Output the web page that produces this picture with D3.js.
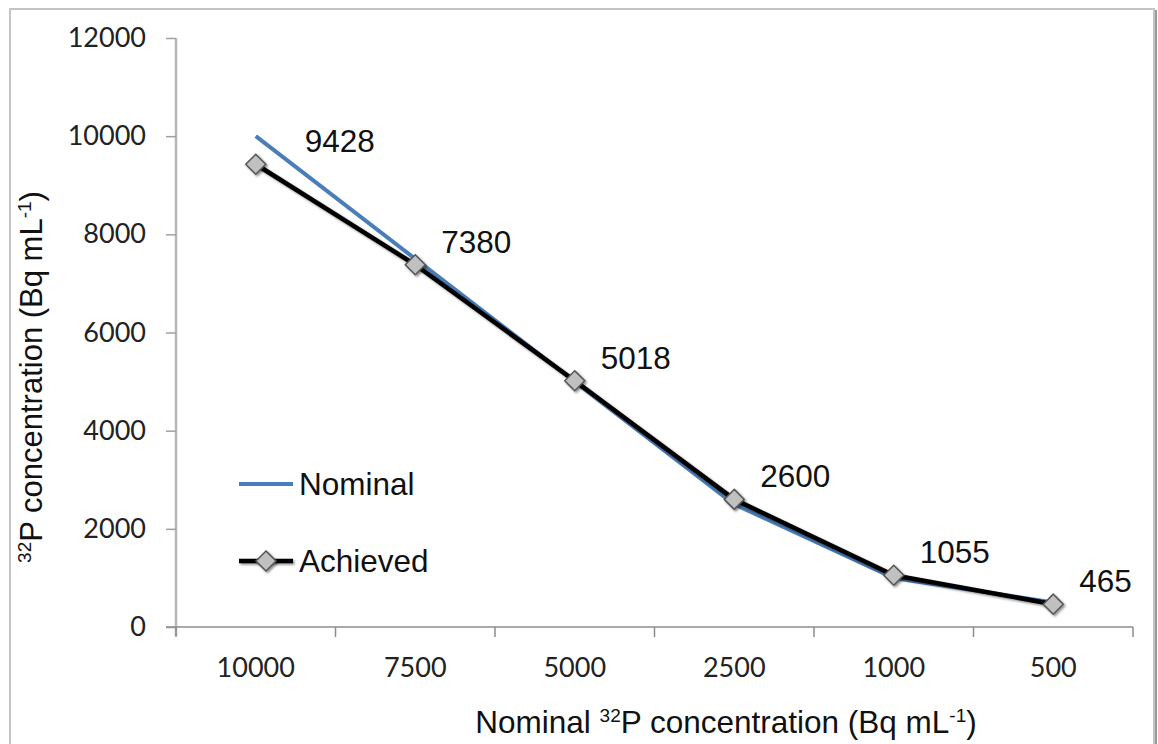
<!DOCTYPE html>
<html><head><meta charset="utf-8">
<script src="https://cdn.jsdelivr.net/npm/d3@7"></script>
<style>
html,body{margin:0;padding:0;background:#fff;}
svg{display:block;}
</style></head>
<body>
<svg id="chart" width="1158" height="744"></svg>
<script>
const categories = ["10000","7500","5000","2500","1000","500"];
const nominal = [10000, 7500, 5000, 2500, 1000, 500];
const achieved = [9428, 7380, 5018, 2600, 1055, 465];
const yTicks = [0, 2000, 4000, 6000, 8000, 10000, 12000];
const seriesNames = ["Nominal", "Achieved"];

(function(){
const svg = d3.select("#chart");
const pL = 176, pR = 1133, pT = 38, pB = 627;
const AR = "Liberation Sans, Arial, sans-serif";

// frame
svg.append("rect").attr("x", 10).attr("y", 9).attr("width", 1144).attr("height", 760)
  .attr("fill", "#fff").attr("stroke", "#c4c4c4").attr("stroke-width", 2);
svg.append("line").attr("x1", 1156).attr("x2", 1156).attr("y1", 10).attr("y2", 744)
  .attr("stroke", "#9a9a9a").attr("stroke-width", 2);

const defs = svg.append("defs");
const f = defs.append("filter").attr("id", "sh").attr("filterUnits", "userSpaceOnUse")
  .attr("x", 0).attr("y", 0).attr("width", 1158).attr("height", 744);
f.append("feDropShadow").attr("dx", 1.5).attr("dy", 1.5).attr("stdDeviation", 1.2).attr("flood-color", "#000").attr("flood-opacity", 0.45);

const x = d3.scaleBand().domain(categories).range([pL, pR]).padding(0);
const y = d3.scaleLinear().domain([0, 12000]).range([pB, pT]);
const cx = d => x(d) + x.bandwidth() / 2;

// y axis
const yAxis = d3.axisLeft(y).tickValues(yTicks).tickFormat(d3.format("d")).tickSize(10).tickPadding(20).tickSizeOuter(0);
const gy = svg.append("g").attr("transform", `translate(${pL},0)`).call(yAxis);
gy.select(".domain").attr("stroke", "#b8b8b8").attr("stroke-width", 2.5).attr("d", `M0,${pT}V${pB + 9}`);
gy.selectAll(".tick line").attr("stroke", "#a0a0a0").attr("stroke-width", 1.5);
gy.selectAll(".tick text").attr("font-family", "Lato").attr("font-size", 27).attr("fill", "#222");

// x axis
const xAxis = d3.axisBottom(x).tickSize(0).tickPadding(31).tickSizeOuter(0);
const gx = svg.append("g").attr("transform", `translate(0,${pB})`).call(xAxis);
gx.select(".domain").attr("stroke", "#8c8c8c").attr("stroke-width", 1.5).attr("d", `M${pL - 10},0H${pR}`);
gx.selectAll(".tick text").attr("font-family", "Lato").attr("font-size", 27).attr("fill", "#222");
const bounds = categories.map(c => x(c)).concat([pR]);
gx.selectAll(".bnd").data(bounds).enter().append("line")
  .attr("x1", d => d).attr("x2", d => d).attr("y1", 0).attr("y2", 10)
  .attr("stroke", "#8c8c8c").attr("stroke-width", 1.5);

// lines
const line = d3.line().x(d => cx(d.c)).y(d => y(d.v));
const nomData = categories.map((c, i) => ({c, v: nominal[i]}));
const achData = categories.map((c, i) => ({c, v: achieved[i]}));
svg.append("path").datum(nomData).attr("d", line).attr("fill", "none")
  .attr("stroke", "#4a7ebb").attr("stroke-width", 4).attr("stroke-linejoin", "round");
svg.append("path").datum(achData).attr("d", line).attr("fill", "none")
  .attr("stroke", "#000").attr("stroke-width", 4.5).attr("stroke-linejoin", "round").attr("filter", "url(#sh)");

const diamond = (px, py, s) => `M${px},${py - s}L${px + s},${py}L${px},${py + s}L${px - s},${py}Z`;
svg.selectAll(".mk").data(achData).enter().append("path")
  .attr("d", d => diamond(cx(d.c), y(d.v), 10))
  .attr("fill", "#c0c0c0").attr("stroke", "#555").attr("stroke-width", 1.5).attr("filter", "url(#sh)");

// data labels
svg.selectAll(".dl").data(achData).enter().append("text")
  .attr("x", (d, i) => cx(d.c) + (i === 0 ? 49 : 26))
  .attr("y", d => y(d.v) - 23)
  .attr("dy", "0.35em")
  .attr("font-family", AR).attr("font-size", 31.5).attr("fill", "#111")
  .text(d => d.v);

// legend
const lg = svg.append("g");
lg.append("line").attr("x1", 239).attr("x2", 293).attr("y1", 484).attr("y2", 484)
  .attr("stroke", "#4a7ebb").attr("stroke-width", 4);
lg.append("text").attr("x", 299).attr("y", 484).attr("dy", "0.35em")
  .attr("font-family", AR).attr("font-size", 31.5).attr("fill", "#111").text(seriesNames[0]);
lg.append("line").attr("x1", 239).attr("x2", 293).attr("y1", 561).attr("y2", 561)
  .attr("stroke", "#000").attr("stroke-width", 4.5).attr("filter", "url(#sh)");
lg.append("path").attr("d", diamond(266, 561, 10)).attr("fill", "#c0c0c0").attr("stroke", "#555").attr("stroke-width", 1.5).attr("filter", "url(#sh)");
lg.append("text").attr("x", 299).attr("y", 561).attr("dy", "0.35em")
  .attr("font-family", AR).attr("font-size", 31.5).attr("fill", "#111").text(seriesNames[1]);

// axis titles
const xt = svg.append("text").attr("x", 726).attr("y", 733).attr("text-anchor", "middle")
  .attr("font-family", AR).attr("font-size", 31.5).attr("fill", "#111");
xt.append("tspan").text("Nominal ");
xt.append("tspan").attr("font-size", 19).attr("dy", -11).text("32");
xt.append("tspan").attr("dy", 11).text("P concentration (Bq mL");
xt.append("tspan").attr("font-size", 19).attr("dy", -11).text("-1");
xt.append("tspan").attr("dy", 11).text(")");

const yt = svg.append("text").attr("transform", "translate(42,377) rotate(-90)").attr("text-anchor", "middle")
  .attr("font-family", AR).attr("font-size", 31).attr("fill", "#111");
yt.append("tspan").attr("font-size", 19).attr("dy", -11).text("32");
yt.append("tspan").attr("dy", 11).text("P concentration (Bq mL");
yt.append("tspan").attr("font-size", 19).attr("dy", -11).text("-1");
yt.append("tspan").attr("dy", 11).text(")");
})();
</script>
</body></html>
